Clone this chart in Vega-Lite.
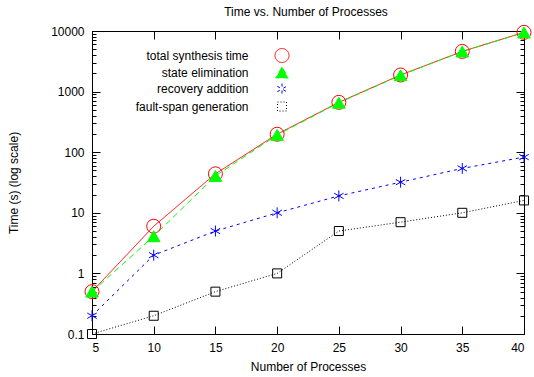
{
  "$schema": "https://vega.github.io/schema/vega-lite/v6.json",
  "width": 432,
  "height": 303,
  "autosize": {"type": "none"},
  "padding": {"left": 92, "top": 31, "right": 10, "bottom": 43},
  "title": {"text": "Time vs. Number of Processes", "fontSize": 12, "fontWeight": "normal", "font": "Liberation Sans", "color": "#000", "offset": 4, "dx": -2},
  "config": {
    "view": {"stroke": "#000", "strokeWidth": 1},
    "font": "Liberation Sans",
    "axis": {"grid": false, "labelFont": "Liberation Sans", "labelFontSize": 12, "labelColor": "#000", "titleFont": "Liberation Sans", "titleFontSize": 12, "titleFontWeight": "normal", "titleColor": "#000"}
  },
  "data": {"values": [
    {"series": "total synthesis time", "processes": 5, "time": 0.5},
    {"series": "total synthesis time", "processes": 10, "time": 6},
    {"series": "total synthesis time", "processes": 15, "time": 44},
    {"series": "total synthesis time", "processes": 20, "time": 198},
    {"series": "total synthesis time", "processes": 25, "time": 665},
    {"series": "total synthesis time", "processes": 30, "time": 1880},
    {"series": "total synthesis time", "processes": 35, "time": 4600},
    {"series": "total synthesis time", "processes": 40, "time": 9500},
    {"series": "state elimination", "processes": 5, "time": 0.5},
    {"series": "state elimination", "processes": 10, "time": 4.1},
    {"series": "state elimination", "processes": 15, "time": 40.5},
    {"series": "state elimination", "processes": 20, "time": 193},
    {"series": "state elimination", "processes": 25, "time": 655},
    {"series": "state elimination", "processes": 30, "time": 1860},
    {"series": "state elimination", "processes": 35, "time": 4580},
    {"series": "state elimination", "processes": 40, "time": 9450},
    {"series": "recovery addition", "processes": 5, "time": 0.2},
    {"series": "recovery addition", "processes": 10, "time": 2},
    {"series": "recovery addition", "processes": 15, "time": 5},
    {"series": "recovery addition", "processes": 20, "time": 10},
    {"series": "recovery addition", "processes": 25, "time": 19},
    {"series": "recovery addition", "processes": 30, "time": 32},
    {"series": "recovery addition", "processes": 35, "time": 54},
    {"series": "recovery addition", "processes": 40, "time": 83},
    {"series": "fault-span generation", "processes": 5, "time": 0.1},
    {"series": "fault-span generation", "processes": 10, "time": 0.2},
    {"series": "fault-span generation", "processes": 15, "time": 0.5},
    {"series": "fault-span generation", "processes": 20, "time": 1},
    {"series": "fault-span generation", "processes": 25, "time": 5},
    {"series": "fault-span generation", "processes": 30, "time": 7},
    {"series": "fault-span generation", "processes": 35, "time": 10},
    {"series": "fault-span generation", "processes": 40, "time": 16}
  ]},
  "layer": [
    {
      "mark": {"type": "line", "strokeWidth": 1},
      "encoding": {
        "x": {"field": "processes", "type": "quantitative", "scale": {"domain": [5, 40], "nice": false, "zero": false},
          "axis": {"orient": "bottom", "title": "Number of Processes", "values": [5, 10, 15, 20, 25, 30, 35, 40], "domain": false, "ticks": false, "tickSize": 0, "labelPadding": 8, "titlePadding": 8}},
        "y": {"field": "time", "type": "quantitative", "scale": {"type": "log", "domain": [0.1, 10000], "nice": false},
          "axis": {"orient": "left", "title": "Time (s) (log scale)", "domain": false, "ticks": false, "tickSize": 0,
            "values": [0.1, 1, 10, 100, 1000, 10000],
            "labelExpr": "datum.value < 1 ? '0.1' : format(datum.value, 'd')",
            "labelPadding": 8, "titlePadding": 30}},
        "color": {"field": "series", "type": "nominal",
          "scale": {"domain": ["total synthesis time", "state elimination", "recovery addition", "fault-span generation"], "range": ["#ff0000", "#00ff00", "#0000ff", "#000000"]},
          "legend": {"title": null, "orient": "none", "legendX": 182.5, "legendY": 17, "padding": 0, "symbolStrokeWidth": 1, "gridAlign": "all",
            "labelAlign": "right", "labelOffset": -41, "labelFontSize": 12, "labelFont": "Liberation Sans", "labelColor": "#000", "rowPadding": -1.5}},
        "strokeDash": {"field": "series", "type": "nominal",
          "scale": {"domain": ["total synthesis time", "state elimination", "recovery addition", "fault-span generation"], "range": [[1, 0], [6, 4], [3, 4], [1, 2]]},
          "legend": null}
      }
    },
    {
      "mark": {"type": "point", "strokeWidth": 1, "opacity": 1},
      "encoding": {
        "x": {"field": "processes", "type": "quantitative", "axis": null},
        "y": {"field": "time", "type": "quantitative", "axis": null},
        "shape": {"field": "series", "type": "nominal",
          "scale": {"domain": ["total synthesis time", "state elimination", "recovery addition", "fault-span generation"], "range": ["circle", "triangle-up", "M0,-1L0,1M-0.87,-0.5L0.87,0.5M-0.87,0.5L0.87,-0.5", "square"]},
          "legend": null},
        "size": {"field": "series", "type": "nominal",
          "scale": {"domain": ["total synthesis time", "state elimination", "recovery addition", "fault-span generation"], "range": [196, 81, 100, 100]},
          "legend": null},
        "stroke": {"field": "series", "type": "nominal",
          "scale": {"domain": ["total synthesis time", "state elimination", "recovery addition", "fault-span generation"], "range": ["#ff0000", "#00ff00", "#0000ff", "#000000"]},
          "legend": null},
        "fill": {"field": "series", "type": "nominal",
          "scale": {"domain": ["total synthesis time", "state elimination", "recovery addition", "fault-span generation"], "range": ["transparent", "#00ff00", "transparent", "transparent"]},
          "legend": null}
      }
    },
    {
      "mark": {"type": "point", "opacity": 0},
      "encoding": {
        "x": {"field": "processes", "type": "quantitative",
          "axis": {"orient": "top", "title": null, "labels": false, "ticks": false, "domain": false, "grid": true, "gridColor": "black", "gridOpacity": 1, "gridWidth": 1,
            "gridDash": [8, 287, 8],
            "values": [5, 10, 15, 20, 25, 30, 35, 40]}},
        "y": {"field": "time", "type": "quantitative",
          "axis": {"orient": "right", "title": null, "labels": false, "ticks": false, "domain": false, "grid": true, "gridColor": "black", "gridOpacity": 1, "gridWidth": 1,
            "gridDash": {"condition": {"test": "abs(log(datum.value)/LN10 - round(log(datum.value)/LN10)) < 0.000001", "value": [8, 416, 8]}, "value": [4, 424, 4]},
            "values": [0.1,0.2,0.3,0.4,0.5,0.6,0.7,0.8,0.9,1,2,3,4,5,6,7,8,9,10,20,30,40,50,60,70,80,90,100,200,300,400,500,600,700,800,900,1000,2000,3000,4000,5000,6000,7000,8000,9000,10000]}}
      }
    }
  ],
  "resolve": {"axis": {"x": "independent", "y": "independent"}}
}
